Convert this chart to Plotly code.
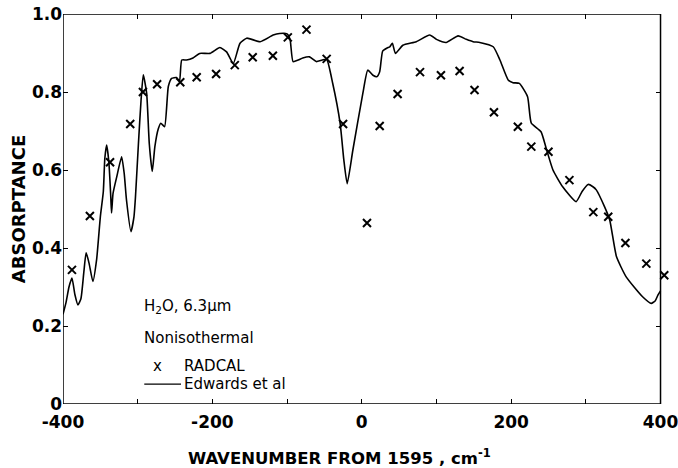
import plotly.graph_objects as go

# RADCAL points (wavenumber offset, absorptance)
radcal_x = [-388, -364, -337, -310, -293, -274, -243, -221, -195, -170, -146, -119, -99, -74, -47,
            -25, 7, 24, 48, 78, 106, 131, 151, 177, 209, 227, 250, 278, 310, 330, 353, 381, 405]
radcal_y = [0.344, 0.482, 0.62, 0.718, 0.80, 0.82, 0.825, 0.838, 0.846, 0.869, 0.889, 0.893, 0.94, 0.96, 0.885,
            0.718, 0.464, 0.713, 0.795, 0.851, 0.843, 0.854, 0.805, 0.748, 0.711, 0.66, 0.647, 0.574, 0.492, 0.48, 0.413, 0.36, 0.33]

# Edwards et al curve
edw_x = [-400, -396, -392, -388, -384, -380, -376, -372, -369, -365, -360, -355, -350, -346, -344, -341.5,
         -338.5, -336, -335, -333, -328, -321.5, -318, -315, -309, -305, -303, -299, -295.5, -292.5, -288,
         -284.5, -280.5, -277, -272.5, -269, -264, -259, -254.6, -248, -244, -241, -234.5, -226, -217, -203,
         -190, -181, -172, -163, -154, -136, -118.6, -110, -100, -96, -92, -85, -79, -70, -61, -53, -47,
         -39, -29, -24, -19.5, -12, 1.5, 8, 15, 20, 24, 28, 34, 37.5, 41, 45, 55, 73, 91, 100, 113, 129,
         140, 149, 158, 176, 185, 196, 202.5, 211, 222, 227, 240, 247, 256, 269, 287, 295, 303, 309.5, 314,
         325, 332, 341, 354, 376, 387.6, 393, 396.5, 400]
edw_y = [0.23, 0.26, 0.30, 0.323, 0.28, 0.254, 0.27, 0.34, 0.388, 0.36, 0.314, 0.37, 0.48, 0.545, 0.63, 0.664,
         0.618, 0.53, 0.49, 0.54, 0.583, 0.634, 0.59, 0.523, 0.442, 0.48, 0.53, 0.668, 0.779, 0.844, 0.797,
         0.668, 0.596, 0.66, 0.705, 0.72, 0.711, 0.814, 0.835, 0.837, 0.828, 0.882, 0.882, 0.887, 0.899, 0.899,
         0.914, 0.903, 0.873, 0.925, 0.938, 0.929, 0.946, 0.95, 0.949, 0.935, 0.878, 0.882, 0.887, 0.89, 0.878, 0.882, 0.884,
         0.823, 0.72, 0.626, 0.565, 0.65, 0.797, 0.856, 0.843, 0.839, 0.852, 0.905, 0.913, 0.916, 0.925, 0.899, 0.92, 0.929, 0.946, 0.935, 0.927, 0.944,
         0.935, 0.929, 0.927, 0.916, 0.882, 0.831, 0.824, 0.822, 0.788, 0.72, 0.698, 0.655, 0.600, 0.557, 0.519, 0.545, 0.563, 0.557, 0.549,
         0.506, 0.472, 0.378, 0.326, 0.275, 0.258, 0.265, 0.279, 0.29]

x_tickvals = [-400, -300, -200, -100, 0, 100, 200, 300, 400]
x_ticktext = ["-400", "", "-200", "", "0", "", "200", "", "400"]
y_tickvals = [0, 0.2, 0.4, 0.6, 0.8, 1.0]
y_ticktext = ["0", "0.2", "0.4", "0.6", "0.8", "1.0"]

X_MIN, X_MAX = -400, 400
X_VIEW_MAX = 406  # a little room so the last RADCAL point (on the frame) is drawn

FONT = "DejaVu Sans"
tick_font = dict(family=FONT, size=17, color="black", weight="bold")

fig = go.Figure()
fig.add_trace(go.Scatter(x=edw_x, y=edw_y, mode="lines",
                         line=dict(color="black", width=1.6, shape="spline", smoothing=0.5),
                         showlegend=False))
fig.add_trace(go.Scatter(x=radcal_x, y=radcal_y, mode="markers",
                         marker=dict(symbol="x-thin", size=8, line=dict(color="black", width=2)),
                         cliponaxis=False, showlegend=False))

fig.update_xaxes(range=[X_MIN, X_VIEW_MAX], tickmode="array", tickvals=x_tickvals, ticktext=x_ticktext,
                 showline=True, linecolor="white", linewidth=1.5, mirror="ticks",
                 ticks="inside", ticklen=5, tickwidth=1.2, tickcolor="black",
                 showgrid=False, zeroline=False, tickfont=tick_font, ticklabelstandoff=2,
                 ticklabeloverflow="allow", automargin=False)
fig.update_yaxes(range=[0, 1.0], tickmode="array", tickvals=y_tickvals, ticktext=y_ticktext,
                 showline=False, mirror=False, ticks="inside", ticklen=5, tickwidth=1.2, tickcolor="black",
                 showgrid=False, zeroline=False, tickfont=tick_font, automargin=False,
                 ticklabeloverflow="allow",
                 title=dict(text="ABSORPTANCE", font=dict(family=FONT, size=18, color="black", weight="bold"),
                            standoff=1))
# right-hand frame ticks at x = 400
fig.update_layout(yaxis2=dict(overlaying="y", anchor="free", side="right",
                              position=(X_MAX - X_MIN) / (X_VIEW_MAX - X_MIN),
                              range=[0, 1.0], tickmode="array", tickvals=y_tickvals,
                              showticklabels=False, ticks="inside", ticklen=5, tickwidth=1.2,
                              tickcolor="black", showline=False, showgrid=False, zeroline=False,
                              automargin=False))
fig.add_trace(go.Scatter(x=[], y=[], yaxis="y2", showlegend=False))

# plot frame
fig.add_shape(type="rect", xref="x", yref="y", x0=X_MIN, x1=X_MAX, y0=0, y1=1.0,
              line=dict(color="black", width=1.5), fillcolor="rgba(0,0,0,0)", layer="above")

# x-axis title (offset slightly left of the plot centre, as in the original)
fig.add_annotation(x=0.46, y=-0.135, xref="paper", yref="paper", xanchor="center", yanchor="middle",
                   text="WAVENUMBER FROM 1595 , cm<sup>-1</sup>", showarrow=False,
                   font=dict(family=FONT, size=16.5, color="black", weight="bold"))

txt_font = dict(family=FONT, size=15, color="black")
fig.add_annotation(x=0.1316, y=0.249, xref="paper", yref="paper", xanchor="left", yanchor="middle",
                   text="H<sub>2</sub>O, 6.3\u03bcm", showarrow=False, font=txt_font)
fig.add_annotation(x=0.1316, y=0.169, xref="paper", yref="paper", xanchor="left", yanchor="middle",
                   text="Nonisothermal", showarrow=False, font=txt_font)
fig.add_annotation(x=0.157, y=0.097, xref="paper", yref="paper", xanchor="center", yanchor="middle",
                   text="x", showarrow=False, font=txt_font)
fig.add_annotation(x=0.1985, y=0.097, xref="paper", yref="paper", xanchor="left", yanchor="middle",
                   text="RADCAL", showarrow=False, font=txt_font)
fig.add_annotation(x=0.197, y=0.051, xref="paper", yref="paper", xanchor="left", yanchor="middle",
                   text="Edwards et al", showarrow=False, font=txt_font)
fig.add_shape(type="line", xref="paper", yref="paper", x0=0.135, x1=0.196, y0=0.051, y1=0.051,
              line=dict(color="black", width=1.2))

plot_w = 598 * (X_VIEW_MAX - X_MIN) / (X_MAX - X_MIN)
fig.update_layout(width=678, height=468, margin=dict(l=63, r=678 - 63 - plot_w, t=14, b=64),
                  paper_bgcolor="white", plot_bgcolor="white")

fig.write_html("out.html")
